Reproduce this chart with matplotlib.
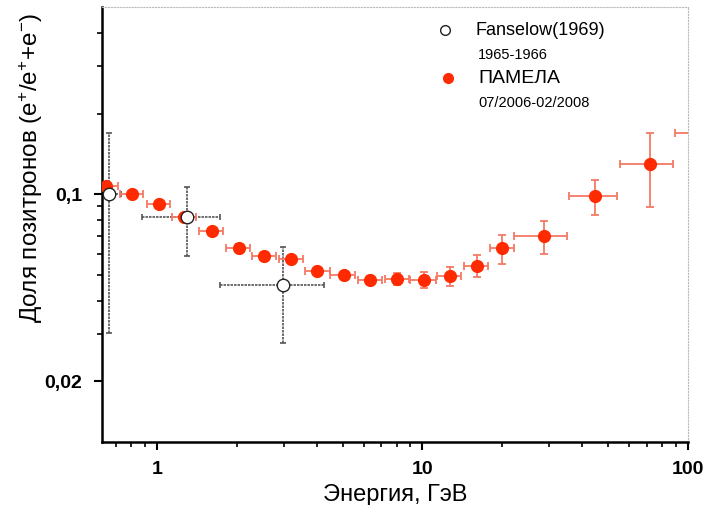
import numpy as np
import matplotlib
matplotlib.use('Agg')
import matplotlib.pyplot as plt
from matplotlib.ticker import FixedLocator, FixedFormatter, NullFormatter

matplotlib.rcParams['font.family'] = 'Liberation Sans'
matplotlib.rcParams['mathtext.fontset'] = 'custom'
matplotlib.rcParams['mathtext.rm'] = 'Liberation Sans'
matplotlib.rcParams['mathtext.it'] = 'Liberation Sans'

# PAMELA 07/2006-02/2008
pam_x = [0.641, 0.808, 1.017, 1.266, 1.61, 2.03, 2.54, 3.19, 4.02, 5.05,
         6.36, 8.0, 10.1, 12.7, 16.0, 20.0, 28.6, 44.7, 71.8, 115.0]
pam_y = [0.107, 0.1006, 0.0923, 0.0823, 0.0729, 0.0632, 0.0588, 0.0571, 0.0515, 0.0501,
         0.048, 0.0482, 0.0478, 0.0495, 0.0541, 0.0627, 0.0697, 0.0983, 0.1295, 0.1686]
pam_xlo = [0.58, 0.726, 0.915, 1.14, 1.443, 1.82, 2.29, 2.88, 3.60, 4.47,
           5.71, 7.20, 8.95, 11.3, 14.3, 18.0, 22.2, 35.7, 55.4, 89.4]
pam_xhi = [0.711, 0.887, 1.119, 1.40, 1.766, 2.24, 2.80, 3.54, 4.47, 5.55,
           7.05, 8.86, 11.2, 14.0, 17.6, 22.2, 34.9, 53.9, 87.9, 140.0]
pam_ylo = [0.104, 0.098, 0.090, 0.080, 0.071, 0.0615, 0.0572, 0.0556, 0.0501, 0.0488,
           0.0466, 0.0457, 0.0446, 0.0455, 0.0490, 0.0549, 0.0597, 0.0837, 0.0897, 0.14]
pam_yhi = [0.110, 0.103, 0.0946, 0.0845, 0.0748, 0.0649, 0.0604, 0.0586, 0.0529, 0.0514,
           0.0494, 0.0509, 0.0511, 0.0535, 0.0591, 0.0703, 0.0794, 0.1128, 0.1686, 0.20]

# Fanselow (1969), 1965-1966
fan_x = [0.662, 1.30, 2.98]
fan_y = [0.100, 0.0825, 0.0457]
fan_xlo = [0.60, 0.876, 1.725]
fan_xhi = [0.73, 1.725, 4.25]
fan_ylo = [0.0302, 0.0587, 0.0278]
fan_yhi = [0.1686, 0.1065, 0.0636]

RED = '#ff2a00'
ERR_RED = '#f47a66'
ERR_GRAY = '#555555'

fig = plt.figure(figsize=(7.06, 5.05), dpi=100)
ax = fig.add_axes([0.1442, 0.1253, 0.8303, 0.8607])
ax.set_xscale('log')
ax.set_yscale('log')

def err(v, lo, hi):
    v, lo, hi = np.array(v), np.array(lo), np.array(hi)
    return np.vstack([v - lo, hi - v])

eb = ax.errorbar(fan_x, fan_y, xerr=err(fan_x, fan_xlo, fan_xhi),
                 yerr=err(fan_y, fan_ylo, fan_yhi), fmt='none',
                 ecolor=ERR_GRAY, elinewidth=1.2, capsize=2, capthick=1.2, zorder=2)
for lc in eb[2]:
    lc.set_linestyle((0, (1.5, 0.6)))

ax.errorbar(pam_x, pam_y, xerr=err(pam_x, pam_xlo, pam_xhi),
            yerr=err(pam_y, pam_ylo, pam_yhi), fmt='none',
            ecolor=ERR_RED, elinewidth=1.3, capsize=3, capthick=1.3, zorder=3)
ax.plot(pam_x, pam_y, 'o', color=RED, markersize=9.5, markeredgecolor='none', zorder=4)
ax.plot(fan_x, fan_y, 'o', markerfacecolor='white', markeredgecolor='#222222',
        markersize=9, markeredgewidth=1, zorder=5)

ax.set_xlim(0.62, 100)
ax.set_ylim(0.0119, 0.5)

ax.xaxis.set_major_locator(FixedLocator([1, 10, 100]))
ax.xaxis.set_major_formatter(FixedFormatter(['1', '10', '100']))
ax.xaxis.set_minor_locator(FixedLocator([0.7, 0.8, 0.9, 2, 3, 4, 5, 6, 7, 8, 9,
                                         20, 30, 40, 50, 60, 70, 80, 90]))
ax.xaxis.set_minor_formatter(NullFormatter())
ax.yaxis.set_major_locator(FixedLocator([0.02, 0.1]))
ax.yaxis.set_major_formatter(FixedFormatter(['0,02', '0,1']))
ax.yaxis.set_minor_locator(FixedLocator([0.03, 0.04, 0.05, 0.06, 0.07, 0.08, 0.09,
                                         0.2, 0.3, 0.4]))
ax.yaxis.set_minor_formatter(NullFormatter())

ax.tick_params(which='major', direction='out', length=6, width=1.5, labelsize=14, pad=8)
ax.tick_params(which='minor', direction='out', length=3.5, width=1.2)
for lab in ax.get_xticklabels() + ax.get_yticklabels():
    lab.set_fontweight('bold')

for s in ['left', 'bottom']:
    ax.spines[s].set_linewidth(1.8)
for s in ['top', 'right']:
    ax.spines[s].set_color('#bbbbbb')
    ax.spines[s].set_linewidth(0.8)
    ax.spines[s].set_linestyle(':')

ax.set_xlabel('Энергия, ГэВ', fontsize=17, labelpad=4)
ax.set_ylabel('Доля позитронов (e$^{+}$/e$^{+}$+e$^{-}$)', fontsize=17.5)
ax.yaxis.set_label_coords(-0.097, 0.63)

# legend drawn by hand
ax.plot([0.5855], [0.947], 'o', transform=ax.transAxes, markerfacecolor='white',
        markeredgecolor='#222222', markersize=7, markeredgewidth=1, clip_on=False)
ax.text(0.638, 0.947, 'Fanselow(1969)', transform=ax.transAxes, fontsize=13, va='center')
ax.text(0.642, 0.8896, '1965-1966', transform=ax.transAxes, fontsize=10.5, va='center')
ax.plot([0.5906], [0.8364], 'o', transform=ax.transAxes, color=RED,
        markersize=8, markeredgecolor='none', clip_on=False)
ax.text(0.642, 0.8364, 'ПАМЕЛА', transform=ax.transAxes, fontsize=14, va='center')
ax.text(0.642, 0.7786, '07/2006-02/2008', transform=ax.transAxes, fontsize=10.5, va='center')

fig.savefig('out.png', dpi=100)
